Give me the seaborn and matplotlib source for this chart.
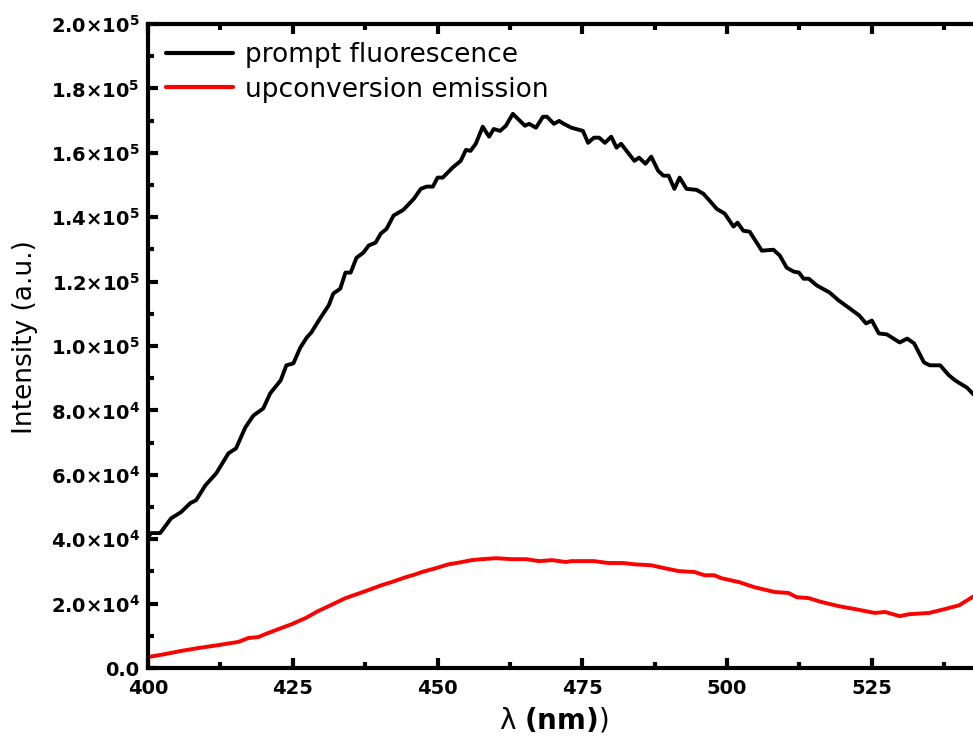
import numpy as np
import pandas as pd
import matplotlib
matplotlib.use("Agg")
import matplotlib.pyplot as plt
from matplotlib.ticker import FixedLocator, FixedFormatter, AutoMinorLocator
import seaborn as sns

# ---------------- data ----------------
pf_wavelength = [400.0, 400.5, 402.1, 404.0, 405.7, 407.3, 408.3, 409.9, 411.8, 413.9, 415.2, 416.8,
                 418.2, 419.9, 421.1, 422.9, 423.9, 425.1, 426.3, 427.4, 428.2, 429.8, 431.2, 432.0,
                 433.2, 434.1, 435.0, 436.0, 437.2, 438.1, 439.3, 440.2, 441.2, 442.4, 444.1, 445.9,
                 447.1, 448.1, 449.2, 450.0, 450.9, 452.6, 454.0, 454.9, 455.7, 456.6, 457.8, 458.9,
                 459.7, 460.8, 461.8, 463.0, 463.9, 465.1, 465.8, 467.0, 468.2, 468.9, 470.1, 471.0,
                 471.8, 473.1, 475.1, 476.0, 477.0, 477.9, 478.9, 480.0, 480.9, 481.7, 482.9, 484.0,
                 484.8, 485.9, 486.9, 488.1, 489.0, 489.9, 490.9, 491.8, 493.0, 494.7, 495.9, 497.0,
                 498.2, 499.6, 501.1, 501.8, 502.8, 503.9, 506.0, 508.0, 509.1, 510.3, 511.5, 512.4,
                 513.2, 514.1, 515.5, 517.7, 519.3, 521.0, 522.8, 524.0, 525.0, 526.2, 527.6, 529.8,
                 531.1, 532.3, 534.0, 535.0, 536.8, 538.3, 539.4, 540.2, 541.4, 542.7]
pf_intensity = [40.5, 41.9, 41.9, 46.5, 48.4, 51.2, 52.1, 56.7, 60.5, 66.7, 68.2, 74.7,
                78.4, 80.6, 85.3, 89.3, 94.0, 94.6, 99.5, 102.6, 104.2, 108.8, 112.6, 116.3,
                117.8, 122.8, 122.8, 127.4, 129.0, 131.2, 132.1, 134.9, 136.4, 140.5, 142.3, 145.7,
                148.8, 149.5, 149.5, 152.3, 152.3, 155.4, 157.5, 160.9, 160.6, 162.8, 168.1, 165.0,
                167.4, 166.8, 168.4, 172.1, 170.5, 168.4, 169.0, 167.8, 171.2, 171.2, 169.0, 169.9,
                169.0, 167.8, 166.8, 163.1, 164.7, 164.7, 163.1, 165.0, 161.6, 162.8, 160.0, 157.5,
                158.5, 156.6, 158.8, 154.4, 152.9, 152.9, 148.8, 152.3, 148.8, 148.5, 147.3, 145.1,
                142.6, 141.1, 137.1, 138.3, 135.8, 135.5, 129.6, 129.9, 128.1, 124.3, 123.1, 122.8,
                120.9, 120.9, 118.8, 116.6, 114.1, 111.9, 109.5, 107.0, 107.9, 103.9, 103.6, 101.1,
                102.3, 100.8, 94.9, 94.0, 94.0, 90.9, 89.3, 88.4, 87.1, 84.7]  # x1000

uc_wavelength = [400.0, 402.9, 405.7, 408.7, 412.1, 415.6, 417.3, 419.0, 420.8, 423.0, 424.8, 427.2,
                 429.4, 431.2, 434.1, 437.6, 440.3, 442.1, 444.5, 446.2, 447.3, 449.7, 451.9, 454.2,
                 455.9, 457.7, 460.1, 462.8, 465.3, 467.5, 469.8, 472.2, 473.1, 477.0, 479.5, 482.1,
                 484.0, 486.9, 489.2, 491.6, 494.4, 496.1, 497.8, 499.0, 502.0, 504.7, 508.2, 510.6,
                 512.0, 514.1, 516.3, 519.3, 522.1, 525.5, 527.3, 529.8, 531.4, 534.9, 537.6, 540.1,
                 541.8, 542.7]
uc_intensity = [3.4, 4.3, 5.3, 6.2, 7.1, 8.1, 9.3, 9.6, 10.9, 12.4, 13.6, 15.5,
                17.7, 19.2, 21.7, 23.9, 25.7, 26.7, 28.2, 29.1, 29.8, 31.0, 32.2, 32.9,
                33.5, 33.8, 34.1, 33.8, 33.8, 33.2, 33.5, 32.9, 33.2, 33.2, 32.6, 32.6,
                32.2, 31.9, 31.0, 30.1, 29.8, 28.8, 28.8, 27.9, 26.7, 25.1, 23.6, 23.3,
                22.0, 21.7, 20.5, 19.2, 18.3, 17.1, 17.4, 16.1, 16.7, 17.1, 18.3, 19.5,
                21.4, 22.4]  # x1000

series_names = ["prompt fluorescence", "upconversion emission"]
series_colors = ["#000000", "#ff0000"]

y_ticks = [0, 20000, 40000, 60000, 80000, 100000, 120000, 140000, 160000, 180000, 200000]
y_tick_labels = ["0.0",
                 r"$\mathbf{2.0{\times}10^{4}}$", r"$\mathbf{4.0{\times}10^{4}}$",
                 r"$\mathbf{6.0{\times}10^{4}}$", r"$\mathbf{8.0{\times}10^{4}}$",
                 r"$\mathbf{1.0{\times}10^{5}}$", r"$\mathbf{1.2{\times}10^{5}}$",
                 r"$\mathbf{1.4{\times}10^{5}}$", r"$\mathbf{1.6{\times}10^{5}}$",
                 r"$\mathbf{1.8{\times}10^{5}}$", r"$\mathbf{2.0{\times}10^{5}}$"]
x_ticks = [400, 425, 450, 475, 500, 525]
x_tick_labels = ["400", "425", "450", "475", "500", "525"]

# ---------------- frame ----------------
df = pd.concat([
    pd.DataFrame({"wavelength": pf_wavelength,
                  "intensity": np.array(pf_intensity) * 1000.0,
                  "series": series_names[0]}),
    pd.DataFrame({"wavelength": uc_wavelength,
                  "intensity": np.array(uc_intensity) * 1000.0,
                  "series": series_names[1]}),
], ignore_index=True)

sns.set_theme(style="ticks")
plt.rcParams["font.family"] = ["DejaVu Sans"]
plt.rcParams["mathtext.fontset"] = "dejavusans"
plt.rcParams["mathtext.default"] = "regular"
for key in ["text.color", "axes.labelcolor", "xtick.color", "ytick.color",
            "xtick.labelcolor", "ytick.labelcolor", "axes.edgecolor"]:
    plt.rcParams[key] = "black"

fig = plt.figure(figsize=(9.73, 7.38), dpi=100)
ax = fig.add_axes([148 / 973, 70 / 738, 1 - 148 / 973 + 0.002, (668 - 24) / 738])

sns.lineplot(data=df, x="wavelength", y="intensity", hue="series",
             hue_order=series_names, palette=series_colors,
             linewidth=2.8, ax=ax, sort=False, estimator=None)

ax.set_xlim(400, 542.8)
ax.set_ylim(0, 200000)

ax.xaxis.set_major_locator(FixedLocator(x_ticks))
ax.xaxis.set_major_formatter(FixedFormatter(x_tick_labels))
ax.xaxis.set_minor_locator(AutoMinorLocator(2))
ax.yaxis.set_major_locator(FixedLocator(y_ticks))
ax.yaxis.set_major_formatter(FixedFormatter(y_tick_labels))
ax.yaxis.set_minor_locator(AutoMinorLocator(2))

for side in ["left", "bottom", "top"]:
    ax.spines[side].set_visible(True)
    ax.spines[side].set_linewidth(3.0)
    ax.spines[side].set_color("black")
ax.spines["right"].set_visible(False)

ax.tick_params(axis="x", which="major", pad=8)
ax.tick_params(axis="y", which="major", pad=6)
ax.tick_params(which="major", direction="in", length=7, width=3, color="black",
               top=True, right=False, labelsize=14, labelcolor="black")
ax.tick_params(which="minor", direction="in", length=4, width=3, color="black",
               top=True, right=False)
for lab in ax.get_xticklabels() + ax.get_yticklabels():
    lab.set_fontweight("bold")

ax.set_xlabel(r"$\lambda$ $\mathbf{(nm)}$)", fontsize=20, color="black")
ax.xaxis.set_label_coords((553 - 148) / 825, -0.058)
ax.set_ylabel("Intensity (a.u.)", fontsize=19, color="black")
ax.yaxis.set_label_coords(-0.133, 0.514)

leg = ax.legend(loc="upper left", frameon=False, fontsize=19,
                handlelength=2.55, handletextpad=0.45, labelspacing=0.33,
                borderaxespad=0.28, bbox_to_anchor=(0.0, 1.0))
for line in leg.get_lines():
    line.set_linewidth(3.0)
for t in leg.get_texts():
    t.set_color("black")

fig.savefig("out.png", dpi=100)
